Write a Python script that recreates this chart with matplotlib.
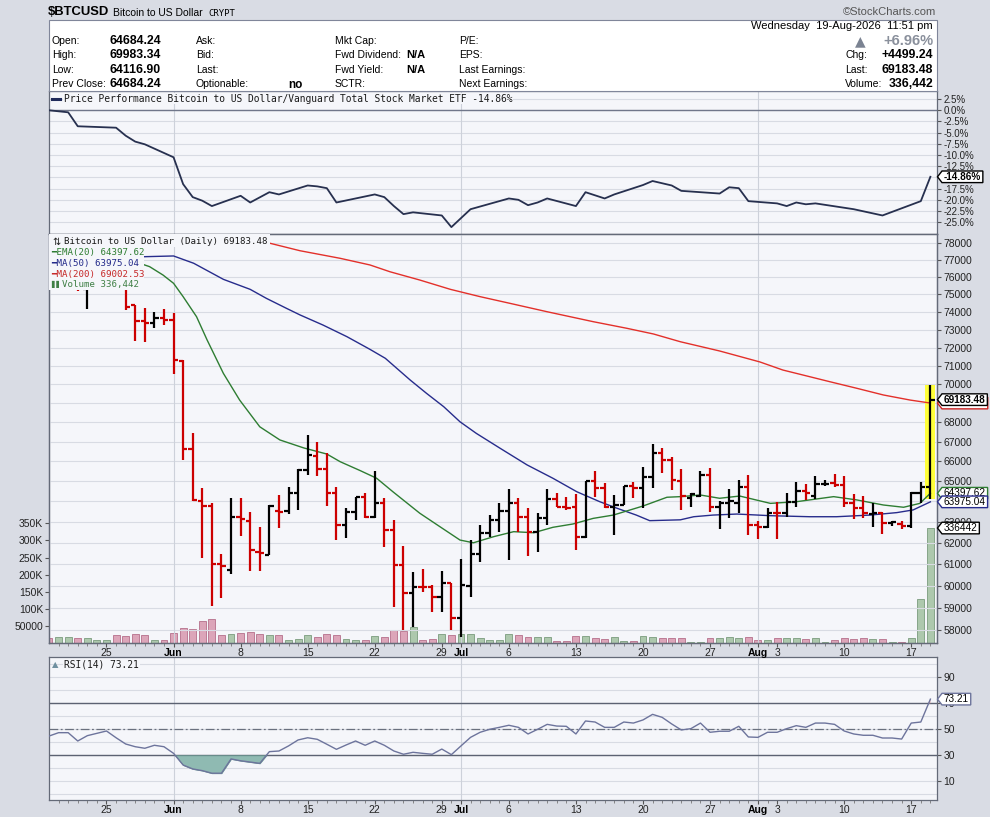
import numpy as np
import matplotlib
matplotlib.use("Agg")
import matplotlib.pyplot as plt
import matplotlib.transforms as mtransforms
from matplotlib.path import Path
from matplotlib.patches import Rectangle
from matplotlib.lines import Line2D
from matplotlib.ticker import FixedLocator, FixedFormatter, NullLocator

# ---------------------------------------------------------------- data
# day index 0 = Tue 19-May-2026 ... 92 = Wed 19-Aug-2026
X_LABEL_POS = [6, 13, 20, 27, 34, 41, 43, 48, 55, 62, 69, 74, 76, 83, 90]
X_LABELS = ['25', 'Jun', '8', '15', '22', '29', 'Jul', '6', '13', '20', '27', 'Aug', '3', '10', '17']
MONTH_STARTS = [13, 43, 74]

OPEN = [77400, 76700, 77000, 77200, 75300, 75700, 76500, 76900, 75800, 74370,
        73480, 73370, 73650, 73530, 71270, 66600, 64020, 63790, 61000, 60740,
        63250, 63040, 61580, 61420, 63530, 63550, 64430, 65550, 66260, 65590,
        64420, 62850, 63500, 64200, 63220, 63910, 62610, 60970, 59670, 59950,
        59920, 59490, 60110, 58540, 60000, 61480, 62480, 63090, 63520, 63940,
        63250, 62530, 63170, 64100, 63740, 63700, 62260, 64990, 64650, 63740,
        63820, 64760, 64650, 65190, 66430, 66060, 65000, 64150, 64270, 65300,
        63740, 63900, 63900, 64700, 62850, 62770, 63450, 63420, 63990, 64530,
        64250, 64850, 64910, 64800, 63910, 63660, 63400, 63440, 62930, 62900,
        62820, 64420, 64684.24]
HIGH = [77600, 77300, 77500, 77300, 75800, 76800, 77200, 77000, 75900, 74370,
        74200, 74000, 74140, 73950, 71300, 67460, 64680, 63910, 61470, 64150,
        64150, 63500, 62740, 63820, 64310, 64730, 65600, 67310, 66990, 66400,
        64720, 63660, 64230, 64420, 65500, 64150, 63090, 61860, 60630, 60790,
        60020, 60670, 60140, 61220, 62130, 62850, 63330, 63910, 64600, 64180,
        63690, 63420, 64600, 64400, 64230, 64350, 64990, 65500, 64880, 64310,
        64760, 64930, 65720, 66860, 66650, 66230, 65600, 64400, 65500, 65650,
        64020, 64600, 65050, 65300, 63060, 63660, 63990, 64420, 64930, 64840,
        65250, 65050, 65350, 65250, 64360, 64270, 63940, 63500, 63060, 63060,
        64480, 64930, 69983.34]
LOW = [76500, 76400, 76600, 75200, 74150, 75600, 76200, 75700, 74100, 72370,
       72310, 73060, 73250, 70560, 66060, 64010, 61270, 59080, 59420, 60550,
       62320, 60690, 60690, 61420, 62720, 63400, 63580, 65300, 65250, 63790,
       62130, 62210, 63090, 63170, 63170, 61810, 59010, 58000, 58140, 59720,
       58790, 58790, 58000, 57700, 59490, 61110, 62290, 62530, 61190, 62530,
       61390, 61580, 62850, 63710, 63580, 61660, 62210, 64230, 63660, 62350,
       63820, 64180, 63660, 64650, 65410, 64560, 63580, 63740, 64230, 63500,
       62640, 63170, 63420, 62350, 62160, 62690, 62160, 63220, 63740, 64070,
       64100, 64760, 64700, 63710, 63120, 63170, 62740, 62430, 62800, 62640,
       62690, 63940, 64116.90]
CLOSE = [76700, 77000, 77200, 75500, 75700, 76500, 76900, 75900, 74270, 73480,
         73370, 73650, 73530, 71310, 66600, 64050, 63790, 61000, 60920, 63250,
         63150, 61660, 61500, 63770, 63500, 64430, 65550, 66300, 65590, 64420,
         62850, 63500, 64200, 63220, 63910, 62610, 60970, 59670, 59950, 59920,
         59490, 60110, 58540, 60010, 61470, 62480, 63090, 63530, 63940, 63250,
         62530, 63170, 64100, 63740, 63660, 62260, 64990, 64650, 63740, 63820,
         64760, 64650, 65190, 66430, 66060, 65050, 64270, 64350, 65300, 63740,
         63940, 64000, 64700, 62850, 62770, 63450, 63420, 63990, 64530, 64400,
         64840, 64870, 64800, 63910, 63660, 63420, 63440, 62960, 62980, 62820,
         64420, 64684.24, 69183.48]
VOLUME = [15500, 18400, 18400, 15500, 15500, 8800, 8800, 23400, 21400, 26300,
          23400, 8800, 8800, 29300, 44000, 41000, 65000, 70000, 23400, 26300,
          29300, 32200, 26300, 23400, 23400, 8800, 11700, 23400, 17600, 26300,
          23400, 11700, 8800, 8800, 20500, 16400, 38000, 36000, 47700, 8800,
          11700, 26300, 23400, 26300, 26300, 14600, 8800, 8800, 26300, 23400,
          17600, 17600, 17600, 6700, 6700, 20500, 20500, 14600, 11700, 17600,
          6700, 6700, 20500, 17600, 14600, 14600, 14600, 2500, 2500, 15000,
          15000, 19000, 15000, 19000, 7500, 7500, 15000, 15000, 15000, 12500,
          15000, 2500, 7500, 15000, 12500, 15000, 12500, 12500, 2500, 2500,
          15000, 129000, 336442]

EMA20_X = [9.3, 10.5, 11.9, 13, 14, 15.4, 16.5, 18.2, 19.9, 22, 24.1, 26.6, 29, 30.4,
           32.5, 34.2, 35.9, 38.7, 40.8, 42.9, 44.3, 46.4, 48.5, 50.6, 52.6, 54.7,
           56.8, 58.9, 62, 64.5, 65.9, 68, 70, 72.1, 75.3, 78, 81.9, 84.3, 87.1,
           89.2, 90.9, 92]
EMA20_Y = [76830, 76600, 76110, 75630, 74860, 73720, 72420, 70590, 69160, 67760,
           67080, 66670, 66360, 65970, 65520, 65140, 64470, 63420, 62770, 62130,
           62000, 62290, 62530, 62480, 62740, 62900, 63170, 63330, 63770, 64200,
           64230, 64310, 64150, 64260, 63900, 63980, 64230, 64070, 63820, 63710,
           63900, 64397.62]
MA50_X = [0, 9.5, 13, 15.1, 18.2, 21, 22.7, 24.8, 26.2, 28.6, 31.1, 33.5, 35.1, 37.7,
          39.4, 41.2, 42.9, 44.6, 47.1, 49.9, 52.6, 55.1, 57.5, 59.3, 61.3, 62.7,
          65.9, 67.3, 69.3, 71.8, 75.3, 79.4, 82.2, 85.7, 88.5, 90.2, 92]
MA50_Y = [77200, 77180, 77230, 76800, 75860, 75280, 74760, 74190, 73820, 73250,
          72600, 71900, 71410, 70230, 69520, 68810, 68020, 67420, 66650, 65810,
          65140, 64470, 63980, 63660, 63330, 63060, 63100, 63250, 63330, 63380,
          63300, 63250, 63250, 63330, 63450, 63580, 63975.04]
MA200_X = [18.9, 23.1, 26.2, 30.4, 33.5, 35.6, 38.7, 41.9, 45, 48.1, 52, 56.8, 60.3,
           63.1, 65.9, 70, 74.2, 76.6, 78.7, 81.5, 84.3, 87.1, 89.9, 92]
MA200_Y = [78420, 77980, 77540, 77090, 76700, 76300, 75820, 75280, 74860, 74480,
           74000, 73440, 73070, 72750, 72320, 71810, 71210, 70770, 70500, 70140,
           69790, 69430, 69160, 69002.53]

PERF_X = [0, 2, 3, 7, 8, 9, 10, 13, 14, 15, 16, 17, 20, 21, 23, 24, 27, 28, 29, 30,
          34, 35, 36, 37, 38, 41, 42, 44, 48, 49, 50, 51, 52, 55, 56, 58, 59, 62,
          63, 65, 66, 70, 71, 72, 73, 76, 77, 78, 79, 80, 84, 87, 91, 92]
PERF_Y = [0.0, -0.45, -3.57, -3.89, -5.67, -7.0, -7.6, -10.5, -16.5, -19.4, -20.2,
          -21.4, -19.1, -20.6, -18.3, -18.8, -16.8, -17.0, -17.4, -20.6, -18.8,
          -19.4, -21.4, -23.2, -22.8, -23.5, -26.1, -22.1, -19.7, -20.0, -21.2,
          -20.6, -19.7, -21.4, -18.3, -19.7, -18.8, -16.7, -15.8, -16.8, -18.0,
          -18.6, -17.2, -17.4, -20.3, -20.8, -21.4, -20.6, -21.0, -20.8, -22.1,
          -23.5, -20.3, -14.86]

RSI = [44.8, 47.4, 47.4, 41.0, 45.1, 46.9, 48.7, 43.5, 38.7, 36.6,
       35.4, 37.7, 36.6, 31.5, 22.5, 19.5, 18.2, 16.2, 16.2, 27.2,
       25.8, 24.8, 23.8, 32.8, 33.3, 37.2, 41.8, 43.5, 42.3, 38.5,
       34.6, 37.9, 41.0, 37.7, 41.0, 37.7, 33.3, 30.8, 32.3, 31.5,
       30.8, 34.8, 30.5, 37.2, 43.8, 47.7, 50.0, 51.5, 53.1, 51.5,
       46.4, 50.0, 53.8, 52.5, 52.3, 46.4, 56.4, 55.6, 51.5, 51.5,
       55.6, 54.8, 57.2, 61.5, 59.2, 54.1, 49.5, 50.5, 54.8, 47.7,
       48.5, 48.5, 52.3, 44.1, 43.8, 47.7, 47.7, 50.5, 52.8, 51.5,
       54.8, 54.8, 53.8, 48.7, 46.4, 45.4, 45.4, 43.3, 43.3, 42.5,
       54.8, 55.6, 73.21]

PRICE_TICKS = list(range(58000, 78001, 1000))
PRICE_HIDDEN = [64000, 69000]          # covered by value tags in the reference
VOL_TICKS = [50000, 100000, 150000, 200000, 250000, 300000, 350000]
VOL_LABELS = ['50000', '100K', '150K', '200K', '250K', '300K', '350K']
PERF_TICKS = [2.5, 0.0, -2.5, -5.0, -7.5, -10.0, -12.5, -15.0, -17.5, -20.0, -22.5, -25.0]
PERF_HIDDEN = [-15.0]
RSI_TICKS = [10, 30, 50, 70, 90]
RSI_GRID = list(range(0, 101, 10))

# ---------------------------------------------------------------- style
plt.rcParams['font.family'] = ['Liberation Sans', 'DejaVu Sans']
MONO = ['DejaVu Sans Mono', 'DejaVu Sans']
PANEL_BG = '#f5f6fa'
GRID = '#d8dbe3'
VGRID = '#cdd1da'
FRAME = '#646a78'
OUTER = '#d9dce4'

W, H = 990, 817
fig = plt.figure(figsize=(9.9, 8.17), dpi=100)
fig.patch.set_facecolor(OUTER)


def fx(px):
    return px / W


def fy(py):
    return 1 - py / H


def rect(x0, y0, x1, y1):
    return [fx(x0), fy(y1), fx(x1) - fx(x0), fy(y0) - fy(y1)]


L, R = 49.3, 937.0
XLIM = (0.03, 92.69)

# header box
fig.add_artist(Rectangle((fx(L), fy(91)), fx(R) - fx(L), fy(20) - fy(91),
                         transform=fig.transFigure, facecolor='white',
                         edgecolor='#80869a', lw=0.8, zorder=0.5))

ax_p = fig.add_axes(rect(L, 91, R, 234), label='perf')
ax_v = fig.add_axes(rect(L, 234, R, 643), label='vol', sharex=ax_p)
ax = fig.add_axes(rect(L, 234, R, 643), label='price', sharex=ax_p)
ax_r = fig.add_axes(rect(L, 657.3, R, 800), label='rsi', sharex=ax_p)
ax_v.set_zorder(1)
ax.set_zorder(2)

for a in (ax_p, ax_v, ax, ax_r):
    for s in a.spines.values():
        s.set_color(FRAME)
        s.set_linewidth(0.9)
    a.set_xlim(*XLIM)

x = np.arange(len(CLOSE))
o = np.array(OPEN); h = np.array(HIGH); lo = np.array(LOW); c = np.array(CLOSE)
up = np.empty(len(c), dtype=bool)
up[0] = c[0] > o[0]
up[1:] = c[1:] > c[:-1]


# custom price-tag box
ARROW, PADX, PADY = 4.5, 1.8, 0.8


def tag_style(x0, y0, width, height, mutation_size):
    x0 -= PADX
    y0 -= PADY
    width += 2 * PADX
    height += 2 * PADY
    return Path([(x0 - ARROW, y0 + height / 2), (x0, y0 + height), (x0 + width, y0 + height),
                 (x0 + width, y0), (x0, y0), (x0 - ARROW, y0 + height / 2)],
                [Path.MOVETO, Path.LINETO, Path.LINETO, Path.LINETO, Path.LINETO, Path.CLOSEPOLY])


def add_tag(host, ytrans, val, text, ec, bold=False, z=10, size=7.2):
    tr = mtransforms.blended_transform_factory(host.transAxes, ytrans)
    host.annotate(text, xy=(1, val), xycoords=tr, xytext=(ARROW + PADX + 0.5, 0),
                  textcoords='offset pixels', ha='left', va='center', fontsize=size,
                  fontweight='bold' if bold else 'normal', color='black',
                  bbox=dict(boxstyle=tag_style, fc='white', ec=ec, lw=1.0),
                  annotation_clip=False, zorder=z)


# ---------------------------------------------------------------- perf panel
ax_p.set_facecolor(PANEL_BG)
for t in PERF_TICKS:
    ax_p.axhline(t, color=GRID, lw=0.8, zorder=0)
ax_p.axhline(0, color='#70768a', lw=1.0, zorder=1)
for m in MONTH_STARTS:
    ax_p.axvline(m, color=VGRID, lw=0.8, zorder=0)
ax_p.plot(PERF_X, PERF_Y, color='#27304f', lw=1.3, zorder=3)
ax_p.set_ylim(-27.64, 4.31)
ax_p.yaxis.set_major_locator(FixedLocator(PERF_TICKS))
ax_p.yaxis.set_major_formatter(FixedFormatter(
    ['' if t in PERF_HIDDEN else f'{t:.1f}%' for t in PERF_TICKS]))
ax_p.yaxis.tick_right()
ax_p.tick_params(axis='y', labelsize=7, length=3, pad=1.5, color='#555', labelcolor='#222')
ax_p.tick_params(axis='x', which='both', bottom=False, top=False, labelbottom=False)
add_tag(ax_p, ax_p.transData, PERF_Y[-1], f'{PERF_Y[-1]:.2f}%', 'black', bold=True, z=10)

# ---------------------------------------------------------------- volume (under price)
ax_v.set_facecolor(PANEL_BG)
vfill = np.where(up, '#adc8ad', '#dca5b9')
vedge = np.where(up, '#7b9c7e', '#b56f8b')
ax_v.bar(x, VOLUME, width=0.72, color=vfill, edgecolor=vedge, lw=0.6, zorder=2)
ax_v.set_ylim(0, 1197000)
ax_v.yaxis.set_major_locator(FixedLocator(VOL_TICKS))
ax_v.yaxis.set_major_formatter(FixedFormatter(VOL_LABELS))
ax_v.tick_params(axis='y', labelsize=7.5, length=3, pad=1.5, color='#555', labelcolor='#222')
ax_v.tick_params(axis='x', which='both', bottom=False, top=False, labelbottom=False)

# ---------------------------------------------------------------- price panel
ax.set_facecolor('none')
ax.set_yscale('log')
ax.set_ylim(57420, 78540)
ax.yaxis.set_major_locator(FixedLocator(PRICE_TICKS))
ax.yaxis.set_major_formatter(FixedFormatter(
    ['' if t in PRICE_HIDDEN else str(t) for t in PRICE_TICKS]))
ax.yaxis.set_minor_locator(NullLocator())
ax.yaxis.tick_right()
ax.set_axisbelow(True)
ax.grid(axis='y', color=GRID, lw=0.8)
for m in MONTH_STARTS:
    ax.axvline(m, color=VGRID, lw=0.8, zorder=0.6)
ax.tick_params(axis='y', labelsize=7.5, length=3, pad=1.5, color='#555', labelcolor='#222')

# highlight of last bar
ax.bar(x[-1], h[-1] - lo[-1], bottom=lo[-1], width=1.05, color='#ffff3a', zorder=1)

ax.plot(MA200_X, MA200_Y, color='#e3302a', lw=1.0, zorder=2)
ax.plot(MA50_X, MA50_Y, color='#272c8c', lw=1.0, zorder=2)
ax.plot(EMA20_X, EMA20_Y, color='#2e7d32', lw=1.0, zorder=2)

bcol = np.where(up, '#000000', '#cc0000')
ax.vlines(x, lo, h, colors=bcol, lw=1.6, zorder=4)
ax.hlines(o, x - 0.45, x, colors=bcol, lw=1.6, zorder=4)
ax.hlines(c, x, x + 0.45, colors=bcol, lw=1.6, zorder=4)


# opaque legend background (as in reference)
def axfrac_box(x0, y0, x1, y1):
    return ((x0 - L) / (R - L), (643 - y1) / 409.0, (x1 - x0) / (R - L), (y1 - y0) / 409.0)


for bx in (axfrac_box(L, 234, 270, 247), axfrac_box(L, 247, 144, 290)):
    ax.add_patch(Rectangle(bx[:2], bx[2], bx[3], transform=ax.transAxes,
                           facecolor=PANEL_BG, edgecolor='none', zorder=6))

# x ticks (shared)
ax.xaxis.set_major_locator(FixedLocator(X_LABEL_POS))
ax.xaxis.set_major_formatter(FixedFormatter(X_LABELS))
ax.xaxis.set_minor_locator(FixedLocator(list(x)))
ax.tick_params(axis='x', which='major', labelsize=7.5, length=3, pad=0.5, color='#555', labelcolor='#222')
ax.tick_params(axis='x', which='minor', length=2, color='#777')

# tags on price panel
add_tag(ax, ax.transData, MA200_Y[-1], f'{MA200_Y[-1]:.2f}', '#cc2222', z=10)
add_tag(ax, ax.transData, CLOSE[-1], f'{CLOSE[-1]:.2f}', 'black', bold=True, z=11)
add_tag(ax, ax.transData, EMA20_Y[-1], f'{EMA20_Y[-1]:.2f}', '#2e7d32', z=12)
add_tag(ax, ax.transData, MA50_Y[-1], f'{MA50_Y[-1]:.2f}', '#272c8c', z=13)
add_tag(ax, ax_v.transData, VOLUME[-1], f'{VOLUME[-1]}', 'black', z=14)

# ---------------------------------------------------------------- RSI panel
ax_r.set_facecolor(PANEL_BG)
for g in RSI_GRID:
    ax_r.axhline(g, color=GRID, lw=0.8, zorder=0)
for m in MONTH_STARTS:
    ax_r.axvline(m, color=VGRID, lw=0.8, zorder=0)
ax_r.axhline(70, color='#5c6272', lw=1.0, zorder=1)
ax_r.axhline(30, color='#5c6272', lw=1.0, zorder=1)
ax_r.axhline(50, color='#6a707e', lw=0.9, ls=(0, (7, 2, 1.5, 2)), zorder=1)
rsi = np.array(RSI)
ax_r.fill_between(x, rsi, 30, where=rsi < 30, interpolate=True,
                  facecolor='#8fbab2', edgecolor='#6a9a92', lw=0.6, zorder=2)
ax_r.fill_between(x, rsi, 70, where=rsi > 70, interpolate=True,
                  facecolor='#e0a0a0', edgecolor='none', zorder=2)
ax_r.plot(x, rsi, color='#6d749c', lw=1.0, zorder=3)
ax_r.set_ylim(-4.4, 105.4)
ax_r.yaxis.set_major_locator(FixedLocator(RSI_TICKS))
ax_r.yaxis.set_major_formatter(FixedFormatter([str(t) for t in RSI_TICKS]))
ax_r.yaxis.tick_right()
ax_r.tick_params(axis='y', labelsize=7.5, length=3, pad=1.5, color='#555', labelcolor='#222')
ax_r.tick_params(axis='x', which='major', labelsize=7.5, length=3, pad=0.5, color='#555', labelcolor='#222')
ax_r.tick_params(axis='x', which='minor', length=2, color='#777')
add_tag(ax_r, ax_r.transData, RSI[-1], f'{RSI[-1]:.2f}', '#6d749c', z=10)

ax_p.set_xlim(*XLIM)
for a in (ax, ax_r):
    for lbl in a.get_xticklabels():
        if lbl.get_text() in ('Jun', 'Jul', 'Aug'):
            lbl.set_fontweight('bold')
            lbl.set_color('black')
ax_p.tick_params(axis='x', which='both', bottom=False, labelbottom=False)
ax_v.tick_params(axis='x', which='both', bottom=False, labelbottom=False)


# ---------------------------------------------------------------- texts
def T(px, py, s, **kw):
    kw.setdefault('va', 'center')
    return fig.text(fx(px), fy(py), s, **kw)


T(48, 12, '$BTCUSD', fontsize=9.4, fontweight='bold')
T(113, 12.5, 'Bitcoin to US Dollar', fontsize=7.5)
T(208, 13, 'CRYPT', fontsize=6.5, family=MONO)
T(936, 12, '\u00a9StockCharts.com', fontsize=8, color='#555', ha='right')

rows = [41, 55, 70, 84]
for y, lab, val in zip(rows, ['Open:', 'High:', 'Low:', 'Prev Close:'],
                       ['64684.24', '69983.34', '64116.90', '64684.24']):
    T(52, y, lab, fontsize=7.5)
    T(110, y, val, fontsize=8.8, fontweight='bold')
for y, lab in zip(rows, ['Ask:', 'Bid:', 'Last:', 'Optionable:']):
    T(196, y, lab, fontsize=7.5)
T(288, 85, 'no', fontsize=8.5, fontweight='bold')
for y, lab in zip(rows, ['Mkt Cap:', 'Fwd Dividend:', 'Fwd Yield:', 'SCTR:']):
    T(335, y, lab, fontsize=7.5)
T(406, 55, 'N/A', fontsize=8, fontweight='bold')
T(406, 70, 'N/A', fontsize=8, fontweight='bold')
for y, lab in zip(rows, ['P/E:', 'EPS:', 'Last Earnings:', 'Next Earnings:']):
    T(459, y, lab, fontsize=7.5)

T(933, 26, 'Wednesday  19-Aug-2026  11:51 pm', fontsize=8, ha='right')
T(855, 41, '\u25b2', fontsize=10, color='#7b8392', family=['DejaVu Sans'])
T(933, 41, '+6.96%', fontsize=10.5, fontweight='bold', color='#8a909c', ha='right')
T(845, 55, 'Chg:', fontsize=7.5)
T(933, 55, '+4499.24', fontsize=8.8, fontweight='bold', ha='right')
T(845, 70, 'Last:', fontsize=7.5)
T(933, 70, '69183.48', fontsize=8.8, fontweight='bold', ha='right')
T(845, 84, 'Volume:', fontsize=7.5)
T(933, 84, '336,442', fontsize=8.8, fontweight='bold', ha='right')

# perf title
fig.add_artist(Line2D([fx(52), fx(60)], [fy(98.5), fy(98.5)], transform=fig.transFigure,
                      color='#1f2a5a', lw=2.2, zorder=5))
T(64, 98.5, 'Price Performance Bitcoin to US Dollar/Vanguard Total Stock Market ETF -14.86%',
  fontsize=6.9, family=MONO, color='#1a1a1a',
  bbox=dict(fc=PANEL_BG, ec='none', pad=0.6), zorder=6)

# main legend
T(52, 241.5, '\u21c5', fontsize=7, family=['DejaVu Sans'], color='#222', zorder=7)
T(64, 241.5, 'Bitcoin to US Dollar (Daily) 69183.48', fontsize=6.6, family=MONO, color='#1a1a1a', zorder=7)
T(51, 253, '\u2501EMA(20) 64397.62', fontsize=6.6, family=MONO, color='#2e7d32', zorder=7)
T(51, 263.5, '\u2501MA(50) 63975.04', fontsize=6.6, family=MONO, color='#232a8a', zorder=7)
T(51, 274, '\u2501MA(200) 69002.53', fontsize=6.6, family=MONO, color='#c62828', zorder=7)
T(51, 284.5, '\u258c\u258c', fontsize=5, family=['DejaVu Sans'], color='#3f7f45', zorder=7)
T(62, 284.5, 'Volume 336,442', fontsize=6.6, family=MONO, color='#3f7f45', zorder=7)

# RSI title
T(52, 664.5, '\u25b2', fontsize=6, family=['DejaVu Sans'], color='#6f90a0', zorder=7)
T(64, 664.5, 'RSI(14) 73.21', fontsize=6.9, family=MONO, color='#1a1a1a',
  bbox=dict(fc=PANEL_BG, ec='none', pad=0.6), zorder=6)

fig.savefig('out.png', dpi=100, facecolor=fig.get_facecolor())
